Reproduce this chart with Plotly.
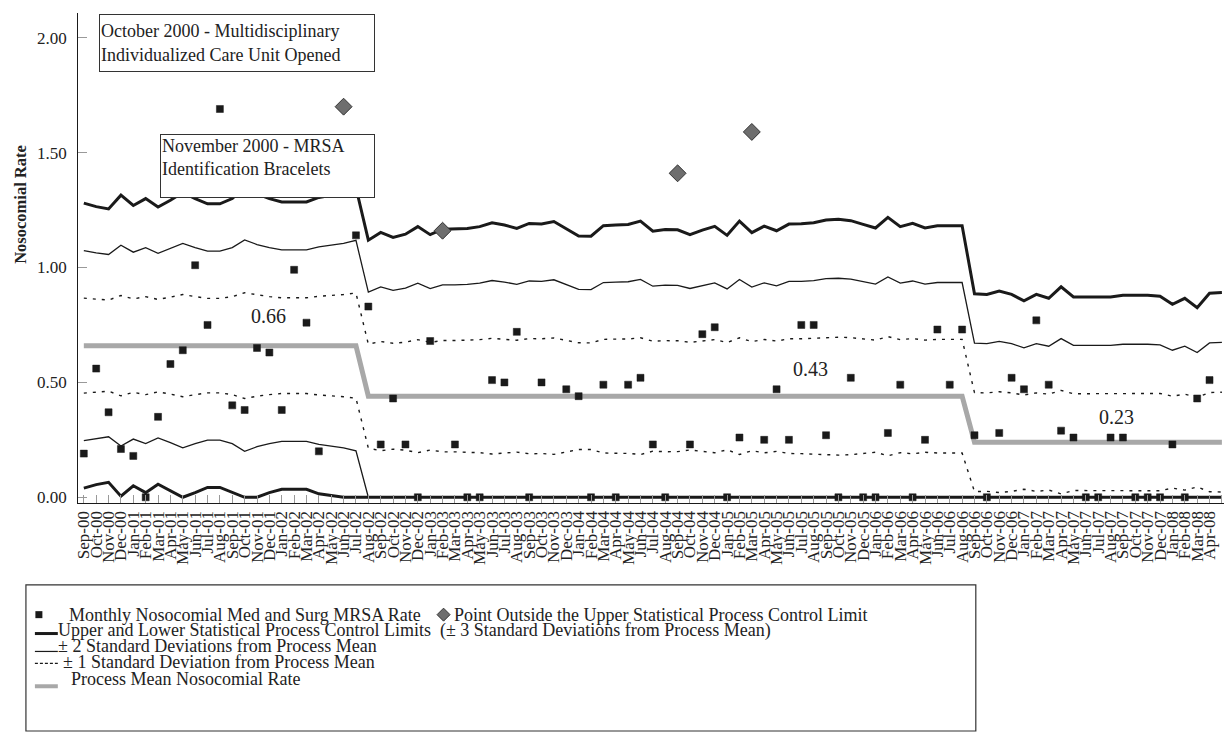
import plotly.graph_objects as go

# ---------------- data ----------------
months = [
    "Sep-00", "Oct-00", "Nov-00", "Dec-00",
    "Jan-01", "Feb-01", "Mar-01", "Apr-01", "May-01", "Jun-01", "Jul-01", "Aug-01", "Sep-01", "Oct-01", "Nov-01", "Dec-01",
    "Jan-02", "Feb-02", "Mar-02", "Apr-02", "May-02", "Jun-02", "Jul-02", "Aug-02", "Sep-02", "Oct-02", "Nov-02", "Dec-02",
    "Jan-03", "Feb-03", "Mar-03", "Apr-03", "May-03", "Jun-03", "Jul-03", "Aug-03", "Sep-03", "Oct-03", "Nov-03", "Dec-03",
    "Jan-04", "Feb-04", "Mar-04", "Apr-04", "May-04", "Jun-04", "Jul-04", "Aug-04", "Sep-04", "Oct-04", "Nov-04", "Dec-04",
    "Jan-05", "Feb-05", "Mar-05", "Apr-05", "May-05", "Jun-05", "Jul-05", "Aug-05", "Sep-05", "Oct-05", "Nov-05", "Dec-05",
    "Jan-06", "Feb-06", "Mar-06", "Apr-06", "May-06", "Jun-06", "Jul-06", "Aug-06", "Sep-06", "Oct-06", "Nov-06", "Dec-06",
    "Jan-07", "Feb-07", "Mar-07", "Apr-07", "May-07", "Jun-07", "Jul-07", "Aug-07", "Sep-07", "Oct-07", "Nov-07", "Dec-07",
    "Jan-08", "Feb-08", "Mar-08", "Apr-08", "May-08",
]

# monthly MRSA rate (None = no visible point)
rate = [
    0.19, 0.56, 0.37, 0.21,
    0.18, 0.00, 0.35, 0.58, 0.64, 1.01, 0.75, 1.69, 0.40, 0.38, 0.65, 0.63,
    0.38, 0.99, 0.76, 0.20, None, 1.70, 1.14, 0.83, 0.23, 0.43, 0.23, 0.00,
    0.68, 1.16, 0.23, 0.00, 0.00, 0.51, 0.50, 0.72, 0.00, 0.50, None, 0.47,
    0.44, 0.00, 0.49, 0.00, 0.49, 0.52, 0.23, 0.00, 1.41, 0.23, 0.71, 0.74,
    0.00, 0.26, 1.59, 0.25, 0.47, 0.25, 0.75, 0.75, 0.27, 0.00, 0.52, 0.00,
    0.00, 0.28, 0.49, 0.00, 0.25, 0.73, 0.49, 0.73, 0.27, 0.00, 0.28, 0.52,
    0.47, 0.77, 0.49, 0.29, 0.26, 0.00, 0.00, 0.26, 0.26, 0.00, 0.00, 0.00,
    0.23, 0.00, 0.43, 0.51, None,
]

# months flagged as outside the upper control limit (drawn as diamonds)
outside_months = ["Jun-02", "Feb-03", "Sep-04", "Mar-05"]

# process mean per month
process_mean = [0.66] * 23 + [0.44] * 49 + [0.24] * 21

# upper control limit (mean + 3 SD) per month
ucl = [
    1.28, 1.265, 1.255, 1.315,
    1.27, 1.30, 1.263, 1.293, 1.327, 1.30, 1.277, 1.277, 1.30, 1.35, 1.32, 1.30,
    1.285, 1.285, 1.285, 1.305, 1.314, 1.327, 1.347, 1.119, 1.153, 1.131, 1.145, 1.178,
    1.143, 1.167, 1.167, 1.170, 1.178, 1.195, 1.185, 1.170, 1.192, 1.189, 1.20, 1.17,
    1.137, 1.136, 1.182, 1.185, 1.187, 1.202, 1.158, 1.165, 1.164, 1.143, 1.163, 1.179,
    1.140, 1.202, 1.152, 1.180, 1.160, 1.189, 1.190, 1.195, 1.207, 1.210, 1.204, 1.188,
    1.172, 1.218, 1.178, 1.192, 1.172, 1.182, 1.182, 1.182, 0.886, 0.883, 0.898, 0.883,
    0.855, 0.883, 0.866, 0.916, 0.872, 0.872, 0.872, 0.872, 0.879, 0.880, 0.879, 0.875,
    0.840, 0.866, 0.825, 0.888, 0.891,
]

mean_labels = ["0.66", "0.43", "0.23"]
y_ticks = [0.0, 0.5, 1.0, 1.5, 2.0]
y_ticktext = ["0.00", "0.50", "1.00", "1.50", "2.00"]

# ---------------- derived limit lines ----------------
x = list(range(len(months)))
sd = [(u - m) / 3.0 for u, m in zip(ucl, process_mean)]
plus1 = [m + s for m, s in zip(process_mean, sd)]
minus1 = [max(0.0, m - s) for m, s in zip(process_mean, sd)]
plus2 = [m + 2 * s for m, s in zip(process_mean, sd)]
minus2 = [max(0.0, m - 2 * s) for m, s in zip(process_mean, sd)]
lcl = [max(0.0, m - 3 * s) for m, s in zip(process_mean, sd)]

sq_x = [i for i in x if rate[i] is not None and months[i] not in outside_months]
sq_y = [rate[i] for i in sq_x]
dm_x = [i for i in x if months[i] in outside_months]
dm_y = [rate[i] for i in dm_x]

# ---------------- figure ----------------
W, H = 1224, 737
FONT = "Liberation Serif, Times New Roman, serif"
BLACK = "#1a1a1a"
GRAY = "#a8a8a8"
DASH = "3px,6px"

fig = go.Figure()

def line(y, width, color=BLACK, dash="solid"):
    fig.add_trace(go.Scatter(x=x, y=y, mode="lines", hoverinfo="skip",
                             line=dict(color=color, width=width, dash=dash),
                             xaxis="x", yaxis="y"))

line(process_mean, 5, GRAY)
line(plus1, 1.4, BLACK, DASH)
line(minus1, 1.4, BLACK, DASH)
line(plus2, 1.3)
line(minus2, 1.3)
line(ucl, 3)
line(lcl, 3)

fig.add_trace(go.Scatter(x=sq_x, y=sq_y, mode="markers",
                         marker=dict(symbol="square", size=7, color=BLACK,
                                     line=dict(width=0.5, color=BLACK)),
                         xaxis="x", yaxis="y"))
fig.add_trace(go.Scatter(x=dm_x, y=dm_y, mode="markers",
                         marker=dict(symbol="diamond", size=13, color="#6e6e6e",
                                     line=dict(width=1, color="#333333")),
                         xaxis="x", yaxis="y"))

# legend glyphs on a pixel-coordinate overlay axis
fig.add_trace(go.Scatter(x=[35], y=[618], mode="markers",
                         marker=dict(symbol="square", size=7, color=BLACK),
                         xaxis="x2", yaxis="y2", hoverinfo="skip"))
fig.add_trace(go.Scatter(x=[441], y=[618], mode="markers",
                         marker=dict(symbol="diamond", size=10, color="#6e6e6e",
                                     line=dict(width=1, color="#333333")),
                         xaxis="x2", yaxis="y2", hoverinfo="skip"))

shapes = [
    dict(type="rect", xref="x2", yref="y2", x0=22, x1=975, y0=588, y1=735,
         line=dict(color="#333333", width=1.2), fillcolor="rgba(0,0,0,0)"),
    dict(type="line", xref="x2", yref="y2", x0=31, x1=54, y0=637, y1=637,
         line=dict(color=BLACK, width=3)),
    dict(type="line", xref="x2", yref="y2", x0=31, x1=54, y0=655, y1=655,
         line=dict(color=BLACK, width=1.2)),
    dict(type="line", xref="x2", yref="y2", x0=31, x1=54, y0=667, y1=667,
         line=dict(color=BLACK, width=1.2, dash="3px,2px")),
    dict(type="line", xref="x2", yref="y2", x0=31, x1=54, y0=690, y1=690,
         line=dict(color=GRAY, width=4)),
]

def ann(text, px, py, size=18, xanchor="left", yanchor="middle", **kw):
    d = dict(text=text, x=px, y=py, xref="x2", yref="y2", showarrow=False,
             xanchor=xanchor, yanchor=yanchor,
             font=dict(family=FONT, size=size, color="#222222"))
    d.update(kw)
    return d

annotations = [
    ann("Monthly Nosocomial Med and Surg MRSA Rate", 63, 618),
    ann("Point Outside the Upper Statistical Process Control Limit", 449, 618),
    ann("Upper and Lower Statistical Process Control Limits\u00a0\u00a0(± 3 Standard Deviations from Process Mean)", 52, 634),
    ann("± 2 Standard Deviations from Process Mean", 52, 650),
    ann("± 1 Standard Deviation from Process Mean", 57, 666),
    ann("Process Mean Nosocomial Rate", 65, 683),
    ann(mean_labels[0], 265, 318, size=20, xanchor="center"),
    ann(mean_labels[1], 809, 371, size=20, xanchor="center"),
    ann(mean_labels[2], 1116, 419, size=20, xanchor="center"),
    ann("<b>Nosocomial Rate</b>", 17, 205, size=16.5, xanchor="center", textangle=-90),
    ann("October 2000 - Multidisciplinary<br>Individualized Care Unit Opened", 95, 14,
        yanchor="top", align="left", width=272, height=54, valign="middle",
        bgcolor="white", bordercolor="#333333", borderwidth=1, borderpad=1),
    ann("November 2000 - MRSA<br>Identification Bracelets", 157, 135,
        yanchor="top", align="left", width=211, height=60, valign="top",
        bgcolor="white", bordercolor="#333333", borderwidth=1, borderpad=1),
]

x_left, x_right = 74.5, 1224
y_top, y_bottom = 13, 506

fig.update_layout(
    width=W, height=H,
    margin=dict(l=0, r=0, t=0, b=0),
    paper_bgcolor="white", plot_bgcolor="rgba(0,0,0,0)",
    showlegend=False,
    font=dict(family=FONT, color="#222222"),
    xaxis=dict(domain=[x_left / W, x_right / W], range=[-0.45, 92.17],
               tickmode="array", tickvals=x, ticktext=months, tickangle=-90,
               tickfont=dict(family=FONT, size=17, color="#222222"),
               showline=True, linecolor=BLACK, linewidth=1,
               ticks="inside", ticklen=8, tickcolor="#999999", tickwidth=1,
               showgrid=False, zeroline=False, anchor="y", fixedrange=True),
    yaxis=dict(domain=[(H - y_bottom) / H, (H - y_top) / H], range=[-0.026, 2.108],
               tickmode="array", tickvals=y_ticks, ticktext=y_ticktext,
               tickfont=dict(family=FONT, size=17, color="#222222"),
               showline=True, linecolor=BLACK, linewidth=1,
               ticks="inside", ticklen=9, tickcolor="#999999", tickwidth=1,
               ticklabelstandoff=7,
               showgrid=False, zeroline=False, anchor="x", fixedrange=True),
    xaxis2=dict(domain=[0, 1], range=[0, W], visible=False, anchor="y2", fixedrange=True),
    yaxis2=dict(domain=[0, 1], range=[H, 0], visible=False, anchor="x2", fixedrange=True),
    shapes=shapes,
    annotations=annotations,
)

fig.write_html("out.html",
               config={"displayModeBar": False},
               post_script="document.body.style.margin='0px';document.body.style.overflow='hidden';")
